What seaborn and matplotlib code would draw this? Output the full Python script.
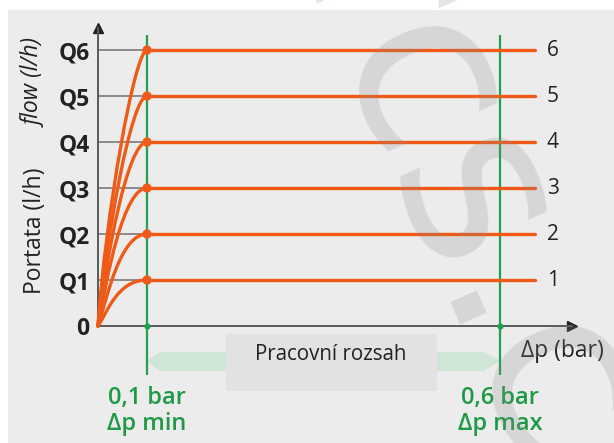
import numpy as np
import pandas as pd
import matplotlib
matplotlib.use("Agg")
import matplotlib.pyplot as plt
from matplotlib.path import Path
from matplotlib.patches import PathPatch, Rectangle, Polygon
import seaborn as sns

# data
levels = [1, 2, 3, 4, 5, 6]
tick_labels = ["0", "Q1", "Q2", "Q3", "Q4", "Q5", "Q6"]
dp_min = 0.1
dp_max = 0.6
dp_end = 0.65
# bezier shape of the rising part (fractions of dp_min / level)
ctrl_a = [0.20, 0.20, 0.18, 0.17, 0.16, 0.15]
ctrl_b = [0.32, 0.34, 0.36, 0.37, 0.38, 0.40]
ctrl_c = [0.40, 0.46, 0.52, 0.60, 0.68, 0.75]

orange = "#ef5a17"
green = "#22a04b"
text_green = "#1e9a46"
dark = "#222222"

sns.set_style("white")
plt.rcParams["font.family"] = ["Open Sans", "DejaVu Sans"]


def fwd(x):
    x = np.asarray(x, dtype=float)
    return np.where(x <= 0.1, 490 * x, 49 + 706 * (x - 0.1))


def inv(u):
    u = np.asarray(u, dtype=float)
    return np.where(u <= 49, u / 490, 0.1 + (u - 49) / 706)


fig = plt.figure(figsize=(6.14, 4.43), dpi=100, facecolor="white")
fig.patches.append(Rectangle((8 / 614, 0), 1, (443 - 10) / 443, transform=fig.transFigure,
                             facecolor="#ececec", edgecolor="none", zorder=-10))

ax = fig.add_axes([98 / 614, (443 - 326) / 443, (572 - 98) / 614, (326 - 28) / 443])
ax.patch.set_visible(False)
ax.set_xscale("function", functions=(fwd, inv))
ax.set_xlim(0, float(inv(474)))
ax.set_ylim(0, 6.48)

for s in ["top", "right"]:
    ax.spines[s].set_visible(False)
for s in ["left", "bottom"]:
    ax.spines[s].set_color("#5a5a5a")
    ax.spines[s].set_linewidth(1.4)
ax.plot(0, 1, marker="^", color=dark, ms=7, transform=ax.transAxes, clip_on=False)
ax.plot(1, 0, marker=">", color=dark, ms=7, transform=ax.transAxes, clip_on=False)

ax.set_xticks([])
ax.set_yticks(range(7), labels=tick_labels)
ax.tick_params(axis="y", length=0, pad=6, labelsize=16.5, labelcolor=dark)
for lab in ax.get_yticklabels():
    lab.set_fontweight("bold")

# short grid lines
ax.hlines(levels, 0, dp_min, color="#7a7a7a", lw=1.2, zorder=1)

# green limit lines
ax.vlines([dp_min, dp_max], -1.07, 6.33, color=green, lw=1.6, clip_on=False, zorder=2)
ax.plot([dp_min, dp_max], [0, 0], "o", color=green, ms=3.5, clip_on=False, zorder=3)

# rising curves
for q, a, b, c in zip(levels, ctrl_a, ctrl_b, ctrl_c):
    verts = [(0, 0), (a * dp_min, b * q), (c * dp_min, q), (dp_min, q)]
    codes = [Path.MOVETO, Path.CURVE4, Path.CURVE4, Path.CURVE4]
    ax.add_patch(PathPatch(Path(verts, codes), facecolor="none", edgecolor=orange,
                           lw=2.4, capstyle="round", zorder=4, clip_on=False))

plateau = pd.DataFrame({
    "dp": [dp_min, dp_end] * len(levels),
    "q": [q for q in levels for _ in range(2)],
    "level": [q for q in levels for _ in range(2)],
})
sns.lineplot(data=plateau, x="dp", y="q", units="level", estimator=None,
             color=orange, lw=2.4, ax=ax, legend=False, zorder=4)
sns.scatterplot(x=[dp_min] * len(levels), y=levels, color=orange, s=45,
                edgecolor="none", ax=ax, zorder=5, legend=False)
ax.set_xlabel("")
ax.set_ylabel("")

for q in levels:
    ax.text(0.675, q, str(q), ha="center", va="center", fontsize=15, color=dark)

# axis labels
ax.text(-0.133, 2.07, "Portata (l/h)", transform=ax.get_yaxis_transform(), rotation=90,
        ha="center", va="center", fontsize=16.5, color=dark)
ax.text(-0.133, 5.28, "flow (l/h)", transform=ax.get_yaxis_transform(), rotation=90,
        ha="center", va="center", fontsize=16.5, color=dark, style="italic")
ax.text(0.688, -0.54, "Δp (bar)", ha="center", va="center", fontsize=16.5, color=dark)

# working range band
band = [(dp_min, -0.76), (0.118, -0.565), (0.577, -0.565), (dp_max, -0.76),
        (0.577, -0.98), (0.118, -0.98)]
ax.add_patch(Polygon(band, closed=True, facecolor="#cfe6d7", edgecolor="none",
                     clip_on=False, zorder=1))
ax.add_patch(Rectangle((0.212, -1.413), 0.299, 1.239, facecolor="#e2e2e2",
                       edgecolor="none", clip_on=False, zorder=1.5))
ax.text(0.36, -0.62, "Pracovní rozsah", ha="center", va="center", fontsize=14.8,
        color=dark, zorder=3)

ax.text(dp_min, -1.3, "0,1 bar\nΔp min", ha="center", va="top", fontsize=17,
        fontweight="semibold", color=text_green, linespacing=1.1)
ax.text(dp_max, -1.3, "0,6 bar\nΔp max", ha="center", va="top", fontsize=17,
        fontweight="semibold", color=text_green, linespacing=1.1)

# watermark
fig.text(352 / 614, 1 - 132 / 443, "ivarcs.cz", rotation=-66, rotation_mode="anchor",
         ha="center", va="baseline", fontsize=170, color="#8a8a8a", alpha=0.22,
         family="DejaVu Sans", zorder=20)

fig.savefig("out.png", dpi=100)
